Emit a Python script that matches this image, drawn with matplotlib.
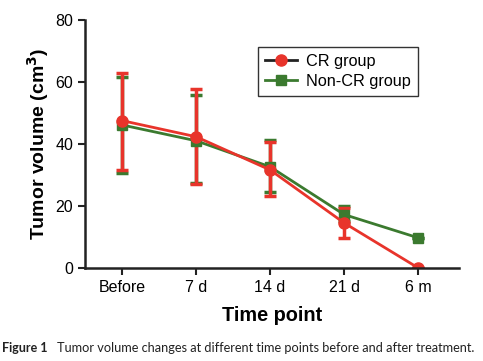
import numpy as np
import matplotlib
matplotlib.use("Agg")
import matplotlib.pyplot as plt
from matplotlib.lines import Line2D

plt.rcParams['font.family'] = ['Liberation Sans', 'DejaVu Sans']

# data
time_points = ["Before", "7 d", "14 d", "21 d", "6 m"]
cr_mean = [47.5, 42.3, 31.6, 14.5, 0.0]
cr_upper = [62.9, 57.6, 40.7, 19.2, 0.0]
cr_lower = [31.5, 26.9, 23.2, 9.5, 0.0]
noncr_mean = [46.1, 41.0, 32.6, 17.2, 9.7]
noncr_upper = [61.5, 55.6, 41.2, 19.9, 9.7]
noncr_lower = [30.5, 27.5, 24.5, 15.0, 9.7]

red = "#e8342b"
green = "#3b7a2f"

fig = plt.figure(figsize=(4.83, 3.61), dpi=100)
ax = fig.add_axes([0.176, 0.258, 0.774, 0.687])

x = np.arange(len(time_points))
cr_mean = np.array(cr_mean)
noncr_mean = np.array(noncr_mean)
cr_err = [cr_mean - np.array(cr_lower), np.array(cr_upper) - cr_mean]
noncr_err = [noncr_mean - np.array(noncr_lower), np.array(noncr_upper) - noncr_mean]

ax.errorbar(x, noncr_mean, yerr=noncr_err, color=green, marker="s", ms=7,
            lw=2, elinewidth=2.5, capsize=4, capthick=2.5)
ax.errorbar(x, cr_mean, yerr=cr_err, color=red, marker="o", ms=8,
            lw=2, elinewidth=2.5, capsize=4, capthick=2.5)

ax.set_xlim(-0.5, 4.55)
ax.set_ylim(0, 80)
ax.set_yticks([0, 20, 40, 60, 80])
ax.set_xticks(x)
ax.set_xticklabels(time_points)
ax.tick_params(labelsize=11.5, width=1.5, length=5, color="#222222")
for s in ["top", "right"]:
    ax.spines[s].set_visible(False)
for s in ["left", "bottom"]:
    ax.spines[s].set_linewidth(1.8)
    ax.spines[s].set_color("#222222")

ax.set_xlabel("Time point", fontsize=14.3, fontweight="bold", labelpad=8)
ax.set_ylabel("Tumor volume (cm$^\\mathbf{3}$)", fontsize=14, fontweight="bold", labelpad=3)

handles = [
    Line2D([], [], color=red, marker="o", ms=8, lw=2, markeredgecolor=red,
           path_effects=None),
    Line2D([], [], color=green, marker="s", ms=7, lw=2),
]
# legend line is dark in the reference for CR group
handles[0].set_color("#222222")
handles[0].set_markerfacecolor(red)
handles[0].set_markeredgecolor(red)
leg = ax.legend(handles, ["CR group", "Non-CR group"], loc="upper left",
                bbox_to_anchor=(0.44, 0.925), fontsize=11.7, frameon=True,
                fancybox=False, edgecolor="black", handlelength=2.0,
                borderpad=0.45, labelspacing=0.3, handletextpad=0.5)
leg.get_frame().set_linewidth(1.0)

fig.text(0.005, 0.025, "Figure 1", fontsize=9, fontweight="bold",
         family=["Lato", "DejaVu Sans"], color="#222222")
fig.text(0.118, 0.025, "Tumor volume changes at different time points before and after treatment.",
         fontsize=9.2, family=["Lato", "DejaVu Sans"], color="#222222")

fig.savefig("out.png", dpi=100)
